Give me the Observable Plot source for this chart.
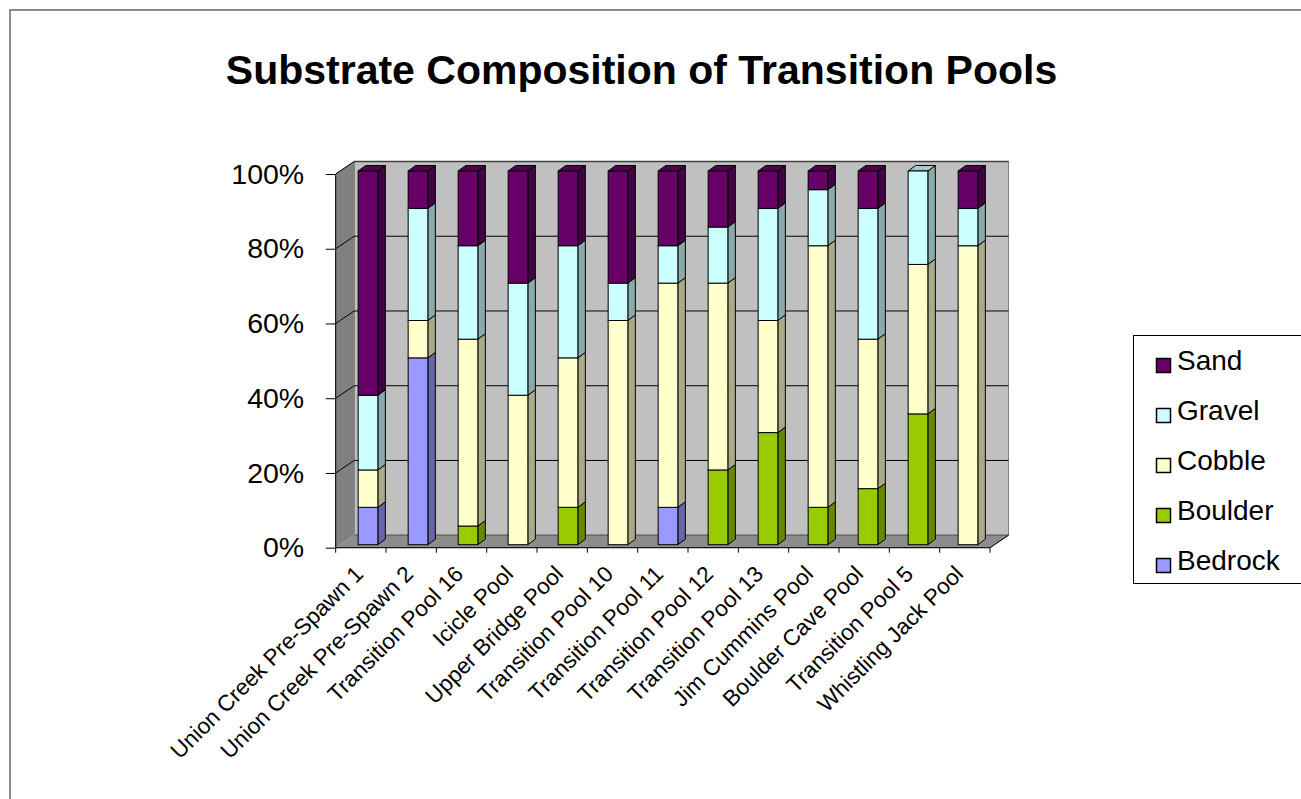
<!DOCTYPE html>
<html>
<head>
<meta charset="utf-8">
<script src="https://cdn.jsdelivr.net/npm/d3@7"></script>
<script src="https://cdn.jsdelivr.net/npm/@observablehq/plot@0.6"></script>
<style>
  html, body { margin: 0; padding: 0; background: #ffffff; }
  #chart { width: 1301px; height: 799px; overflow: hidden; }
</style>
</head>
<body>
<div id="chart"></div>
<script>
// ---- data ----
const title = "Substrate Composition of Transition Pools";
const sites = [
  "Union Creek Pre-Spawn 1", "Union Creek Pre-Spawn 2", "Transition Pool 16",
  "Icicle Pool", "Upper Bridge Pool", "Transition Pool 10", "Transition Pool 11",
  "Transition Pool 12", "Transition Pool 13", "Jim Cummins Pool",
  "Boulder Cave Pool", "Transition Pool 5", "Whistling Jack Pool"
];
const types = ["Bedrock", "Boulder", "Cobble", "Gravel", "Sand"]; // stack order, bottom to top
const bedrock = [10, 50, 0, 0, 0, 0, 10, 0, 0, 0, 0, 0, 0];
const boulder = [0, 0, 5, 0, 10, 0, 0, 20, 30, 10, 15, 35, 0];
const cobble  = [10, 10, 50, 40, 40, 60, 60, 50, 30, 70, 40, 40, 80];
const gravel  = [20, 30, 25, 30, 30, 10, 10, 15, 30, 15, 35, 25, 10];
const sand    = [60, 10, 20, 30, 20, 30, 20, 15, 10, 5, 10, 0, 10];
const yTicks = [0, 20, 40, 60, 80, 100];
const colors     = ["#9999FF", "#99CC00", "#FFFFCC", "#CCFFFF", "#660066"];
const sideColors = ["#6666AA", "#668800", "#AAAA88", "#88AAAA", "#440044"];
const topColors  = ["#7A7ACC", "#7AA300", "#CCCCA3", "#A3CCCC", "#520052"];

const series = [bedrock, boulder, cobble, gravel, sand];
const rows = [];
sites.forEach((s, i) => types.forEach((t, k) => rows.push({site: s, type: t, value: series[k][i]})));

// ---- geometry of the 3D look ----
const W = 1301, H = 799;
const DX = 18.5, DY = 12.5;       // depth of the walls
const FX = 5, FY = -3;            // bar front face offset into depth
const SX = 7.5, SY = -5.5;        // bar depth
const INSET = 15.15;
const font = "'Liberation Sans', Arial, Helvetica, sans-serif";

function walls(index, scales, values, dim) {
  const g = d3.create("svg:g");
  const x0 = dim.marginLeft, x1 = dim.width - dim.marginRight;
  const y = scales.y;
  const y0 = y(0), y100 = y(100);
  g.append("rect").attr("x", x0 + DX).attr("y", y100 - DY)
    .attr("width", x1 - x0).attr("height", y0 - y100)
    .attr("fill", "#C0C0C0").attr("stroke", "#808080");
  g.append("path").attr("d", `M${x0},${y0}L${x0},${y100}L${x0 + DX},${y100 - DY}L${x0 + DX},${y0 - DY}Z`)
    .attr("fill", "#808080").attr("stroke", "#808080");
  g.append("path").attr("d", `M${x0},${y0}L${x1},${y0}L${x1 + DX},${y0 - DY}L${x0 + DX},${y0 - DY}Z`)
    .attr("fill", "#8C8C8C").attr("stroke", "#808080");
  for (const t of yTicks) {
    const yy = y(t);
    g.append("line").attr("x1", x0 + DX).attr("x2", x1 + DX).attr("y1", yy - DY).attr("y2", yy - DY)
      .attr("stroke", t === 0 ? "#606060" : (t === 100 ? "#404040" : "#000")).attr("stroke-width", t === 100 ? 1.5 : 1);
    g.append("line").attr("x1", x0).attr("x2", x0 + DX).attr("y1", yy).attr("y2", yy - DY)
      .attr("stroke", t === 0 ? "#A0A0A0" : "#000");
  }
  return g.node();
}

function axes3d(index, scales, values, dim) {
  const g = d3.create("svg:g");
  const x0 = dim.marginLeft, x1 = dim.width - dim.marginRight;
  const y0 = scales.y(0), y100 = scales.y(100);
  const step = (x1 - x0) / sites.length;
  g.append("line").attr("x1", x1).attr("y1", y0).attr("x2", x1 + DX).attr("y2", y0 - DY).attr("stroke", "#000");
  g.append("line").attr("x1", x0).attr("y1", y0).attr("x2", x1).attr("y2", y0).attr("stroke", "#000");
  g.append("line").attr("x1", x0).attr("y1", y0).attr("x2", x0).attr("y2", y100).attr("stroke", "#000");
  for (let i = 0; i <= sites.length; i++) {
    const xx = x0 + i * step;
    g.append("line").attr("x1", xx).attr("x2", xx).attr("y1", y0).attr("y2", y0 + 5).attr("stroke", "#000");
  }
  return g.node();
}

function barSides(index, scales, values, dim) {
  const g = d3.create("svg:g");
  const x = scales.x, y = scales.y;
  const bw = x.bandwidth ? x.bandwidth() : (dim.width - dim.marginLeft - dim.marginRight) / sites.length;
  sites.forEach((s, i) => {
    const xl = x(s) + INSET + FX, xr = x(s) + bw - INSET + FX;
    let lo = 0;
    let topK = -1, topV = 0;
    types.forEach((t, k) => {
      const v = series[k][i];
      if (v <= 0) return;
      const hi = lo + v;
      const yb = y(lo) + FY, yt = y(hi) + FY;
      g.append("path")
        .attr("d", `M${xr},${yb}L${xr},${yt}L${xr + SX},${yt + SY}L${xr + SX},${yb + SY}Z`)
        .attr("fill", sideColors[k]).attr("stroke", "#000").attr("stroke-linejoin", "round");
      topK = k; topV = hi;
      lo = hi;
    });
    if (topK >= 0) {
      const yt = y(topV) + FY;
      g.append("path")
        .attr("d", `M${xl},${yt}L${xr},${yt}L${xr + SX},${yt + SY}L${xl + SX},${yt + SY}Z`)
        .attr("fill", topColors[topK]).attr("stroke", "#000").attr("stroke-linejoin", "round");
    }
  });
  return g.node();
}

const svg = Plot.plot({
  width: W,
  height: H,
  marginLeft: 335.7,
  marginRight: W - 990,
  marginTop: 174,
  marginBottom: H - 547.7,
  style: {fontFamily: font, background: "transparent", overflow: "visible"},
  x: {domain: sites, padding: 0, axis: null},
  y: {domain: [0, 100]},
  color: {domain: types, range: colors},
  marks: [
    walls,
    barSides,
    Plot.barY(rows.filter(d => d.value > 0), {
      x: "site", y: "value", fill: "type", order: types,
      stroke: "#000", strokeWidth: 1,
      insetLeft: INSET, insetRight: INSET, dx: FX, dy: FY
    }),
    axes3d,
    Plot.axisY({ticks: yTicks, tickFormat: d => d + "%", tickSize: 10, tickPadding: 22, fontSize: 28.5, label: null, stroke: "#000", color: "#000"}),
    Plot.text(sites, {
      x: d => d, frameAnchor: "bottom", text: d => d,
      textAnchor: "end", lineAnchor: "middle", rotate: -45,
      dx: -4, dy: 22, fontSize: 22.5, fill: "#000"
    })
  ]
});

const root = d3.select(svg);
root.insert("rect", ":first-child").attr("x", 10).attr("y", 10).attr("width", 1400).attr("height", 900)
  .attr("fill", "none").attr("stroke", "#666").attr("stroke-width", 1.5);
root.append("text").attr("x", 641.5).attr("y", 84).attr("text-anchor", "middle")
  .attr("font-family", font).attr("font-weight", "bold").attr("font-size", 41).attr("fill", "#000")
  .text(title);
const lg = root.append("g").attr("text-anchor", "start");
lg.append("rect").attr("x", 1133.5).attr("y", 335.5).attr("width", 220).attr("height", 248)
  .attr("fill", "#fff").attr("stroke", "#000");
types.slice().reverse().forEach((t, j) => {
  const k = types.indexOf(t);
  const base = 370 + j * 50;
  lg.append("rect").attr("x", 1156.5).attr("y", base - 11.5).attr("width", 14).attr("height", 14)
    .attr("fill", colors[k]).attr("stroke", "#000").attr("stroke-width", 1.5);
  lg.append("text").attr("x", 1177).attr("y", base).attr("text-anchor", "start")
    .attr("font-family", font).attr("font-size", 28).attr("fill", "#000").text(t);
});

document.getElementById("chart").appendChild(svg);
</script>
</body>
</html>
